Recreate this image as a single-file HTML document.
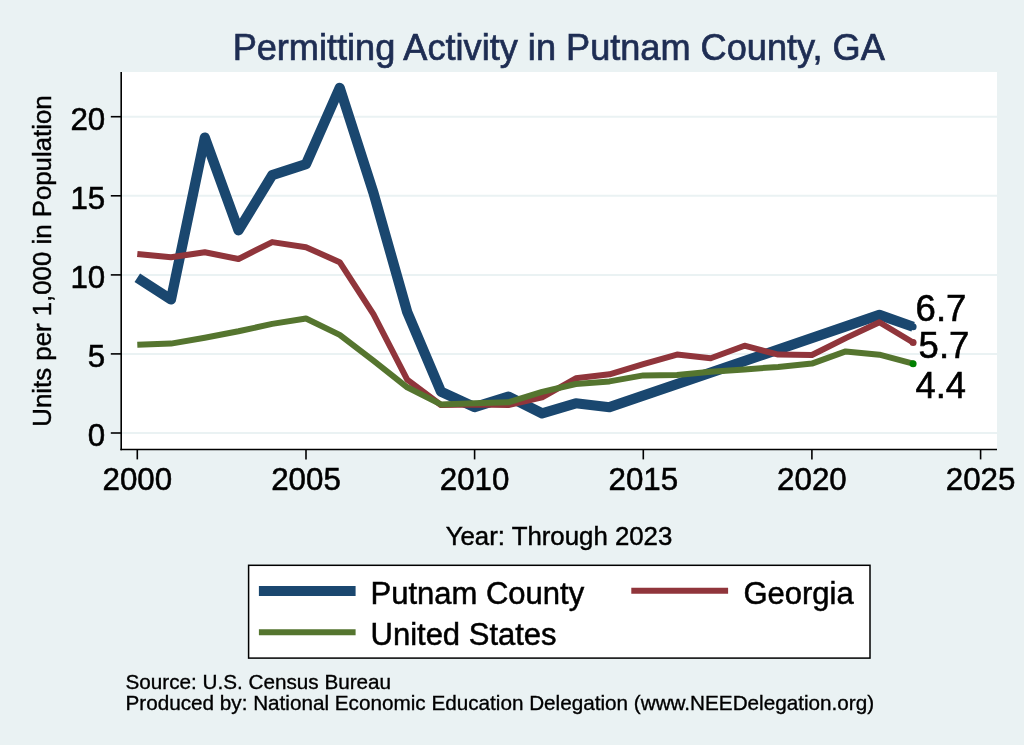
<!DOCTYPE html>
<html lang="en">
<head>
<meta charset="utf-8">
<title>Permitting Activity in Putnam County, GA</title>
<style>
html,body{margin:0;padding:0;background:#eaf2f3;}
body{width:1024px;height:745px;overflow:hidden;}
svg{display:block;}
svg text{font-family:"Liberation Sans",Arial,Helvetica,sans-serif;fill:#000;}
</style>
</head>
<body>
<svg width="1024" height="745" viewBox="0 0 1024 745">
<rect x="0" y="0" width="1024" height="745" fill="#eaf2f3"/>
<rect x="121" y="72" width="876" height="377.5" fill="#ffffff"/>
<line x1="121" x2="997" y1="433.0" y2="433.0" stroke="#eaf2f3" stroke-width="2"/><line x1="121" x2="997" y1="353.9" y2="353.9" stroke="#eaf2f3" stroke-width="2"/><line x1="121" x2="997" y1="274.9" y2="274.9" stroke="#eaf2f3" stroke-width="2"/><line x1="121" x2="997" y1="195.8" y2="195.8" stroke="#eaf2f3" stroke-width="2"/><line x1="121" x2="997" y1="116.7" y2="116.7" stroke="#eaf2f3" stroke-width="2"/>
<polyline points="137.3,277.7 171.0,299.5 204.8,137.6 238.5,230.3 272.2,175.2 306.0,164.1 339.7,87.8 373.4,192.6 407.2,312.0 440.9,391.6 474.6,407.1 508.4,396.5 542.1,413.4 575.8,403.3 609.5,407.2 879.4,314.9 913.1,326.7" fill="none" stroke="#1a476f" stroke-width="10.2" stroke-linejoin="round" stroke-linecap="butt"/>
<circle cx="913.1" cy="326.7" r="3.5" fill="#1a476f"/>
<polyline points="137.3,254.0 171.0,257.3 204.8,252.2 238.5,259.0 272.2,242.1 306.0,247.2 339.7,262.2 373.4,314.2 407.2,379.7 440.9,405.0 474.6,404.5 508.4,405.0 542.1,397.3 575.8,378.3 609.5,374.3 643.3,364.2 677.0,354.6 710.7,358.2 744.5,345.7 778.2,354.6 811.9,355.0 845.7,338.1 879.4,322.3 913.1,342.5" fill="none" stroke="#90353b" stroke-width="6" stroke-linejoin="round" stroke-linecap="butt"/>
<circle cx="913.1" cy="342.5" r="3.5" fill="#90353b"/>
<polyline points="137.3,344.8 171.0,343.6 204.8,337.8 238.5,331.3 272.2,323.9 306.0,318.5 339.7,334.9 373.4,360.7 407.2,387.3 440.9,404.4 474.6,403.3 508.4,402.3 542.1,391.9 575.8,384.0 609.5,381.4 643.3,375.4 677.0,375.0 710.7,371.8 744.5,369.4 778.2,366.9 811.9,363.6 845.7,351.4 879.4,354.7 913.1,363.7" fill="none" stroke="#55752f" stroke-width="6" stroke-linejoin="round" stroke-linecap="butt"/>
<circle cx="913.1" cy="363.7" r="3.5" fill="#008000"/>
<line x1="121.2" x2="121.2" y1="72" y2="450.3" stroke="#000" stroke-width="1.6"/>
<line x1="120.4" x2="997" y1="449.5" y2="449.5" stroke="#000" stroke-width="1.6"/>
<line x1="110.8" x2="121.2" y1="433.0" y2="433.0" stroke="#000" stroke-width="1.6"/><line x1="110.8" x2="121.2" y1="353.9" y2="353.9" stroke="#000" stroke-width="1.6"/><line x1="110.8" x2="121.2" y1="274.9" y2="274.9" stroke="#000" stroke-width="1.6"/><line x1="110.8" x2="121.2" y1="195.8" y2="195.8" stroke="#000" stroke-width="1.6"/><line x1="110.8" x2="121.2" y1="116.7" y2="116.7" stroke="#000" stroke-width="1.6"/>
<line x1="137.3" x2="137.3" y1="449.5" y2="459.4" stroke="#000" stroke-width="1.6"/><line x1="306.0" x2="306.0" y1="449.5" y2="459.4" stroke="#000" stroke-width="1.6"/><line x1="474.6" x2="474.6" y1="449.5" y2="459.4" stroke="#000" stroke-width="1.6"/><line x1="643.3" x2="643.3" y1="449.5" y2="459.4" stroke="#000" stroke-width="1.6"/><line x1="811.9" x2="811.9" y1="449.5" y2="459.4" stroke="#000" stroke-width="1.6"/><line x1="980.6" x2="980.6" y1="449.5" y2="459.4" stroke="#000" stroke-width="1.6"/>
<text x="105.2" y="446.4" text-anchor="end" font-size="31.3" stroke="#000" stroke-width="0.55">0</text><text x="105.2" y="367.3" text-anchor="end" font-size="31.3" stroke="#000" stroke-width="0.55">5</text><text x="105.2" y="288.2" text-anchor="end" font-size="31.3" stroke="#000" stroke-width="0.55">10</text><text x="105.2" y="209.2" text-anchor="end" font-size="31.3" stroke="#000" stroke-width="0.55">15</text><text x="105.2" y="130.1" text-anchor="end" font-size="31.3" stroke="#000" stroke-width="0.55">20</text>
<text x="137.3" y="490.0" text-anchor="middle" font-size="31.3" stroke="#000" stroke-width="0.55">2000</text><text x="306.0" y="490.0" text-anchor="middle" font-size="31.3" stroke="#000" stroke-width="0.55">2005</text><text x="474.6" y="490.0" text-anchor="middle" font-size="31.3" stroke="#000" stroke-width="0.55">2010</text><text x="643.3" y="490.0" text-anchor="middle" font-size="31.3" stroke="#000" stroke-width="0.55">2015</text><text x="811.9" y="490.0" text-anchor="middle" font-size="31.3" stroke="#000" stroke-width="0.55">2020</text><text x="980.6" y="490.0" text-anchor="middle" font-size="31.3" stroke="#000" stroke-width="0.55">2025</text>
<text x="558.7" y="59.8" text-anchor="middle" font-size="36.15" style="fill:#1e2d53" stroke="#1e2d53" stroke-width="0.7">Permitting Activity in Putnam County, GA</text>
<text transform="translate(51.2,261) rotate(-90)" text-anchor="middle" font-size="25.8" stroke="#000" stroke-width="0.45">Units per 1,000 in Population</text>
<text x="559" y="544.8" text-anchor="middle" font-size="25.8" stroke="#000" stroke-width="0.45">Year: Through 2023</text>
<text x="915.6" y="320.5" font-size="36.5" stroke="#000" stroke-width="0.6">6.7</text>
<text x="918.6" y="358.1" font-size="36.5" stroke="#000" stroke-width="0.6">5.7</text>
<text x="915.6" y="398.1" font-size="36.3" stroke="#000" stroke-width="0.6">4.4</text>
<rect x="248.6" y="565.3" width="621.4" height="92.8" fill="#ffffff" stroke="#000" stroke-width="1.5"/>
<line x1="258.9" x2="355.6" y1="591" y2="591" stroke="#1a476f" stroke-width="10.2"/>
<line x1="631.3" x2="728.1" y1="590.8" y2="590.8" stroke="#90353b" stroke-width="6"/>
<line x1="258.9" x2="355.6" y1="632.3" y2="632.3" stroke="#55752f" stroke-width="6"/>
<text x="370.5" y="603.7" font-size="31" stroke="#000" stroke-width="0.5">Putnam County</text>
<text x="743.4" y="603.7" font-size="31" stroke="#000" stroke-width="0.5">Georgia</text>
<text x="370.5" y="645.1" font-size="31" stroke="#000" stroke-width="0.5">United States</text>
<text x="125.5" y="689.0" font-size="20.7" stroke="#000" stroke-width="0.35">Source: U.S. Census Bureau</text>
<text x="125.5" y="709.6" font-size="20.7" stroke="#000" stroke-width="0.35">Produced by: National Economic Education Delegation (www.NEEDelegation.org)</text>
</svg>
</body>
</html>
